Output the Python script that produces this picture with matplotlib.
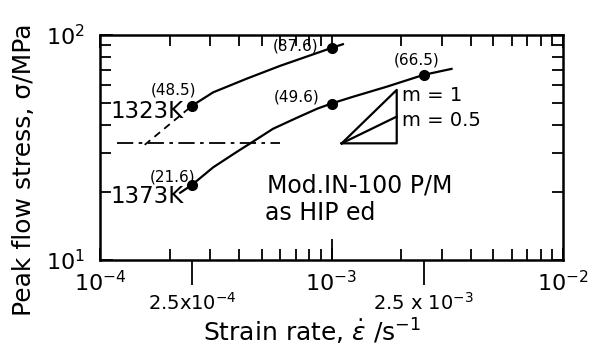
import numpy as np
import matplotlib
matplotlib.use("Agg")
import matplotlib.pyplot as plt
from matplotlib.ticker import LogLocator, NullFormatter, FixedLocator, NullLocator

# measured peak stresses (labelled points)
RATE_1323 = [2.5e-4, 1.0e-3]
STRESS_1323 = [48.5, 87.6]
RATE_1373 = [2.5e-4, 1.0e-3, 2.5e-3]
STRESS_1373 = [21.6, 49.6, 66.5]
POINT_LABELS_1323 = ["(48.5)", "(87.6)"]
POINT_LABELS_1373 = ["(21.6)", "(49.6)", "(66.5)"]

# fitted curves
CURVE_1323_RATE = [2.5e-4, 3.08e-4, 4.31e-4, 5.99e-4, 8.32e-4, 1.0e-3, 1.12e-3]
CURVE_1323_STRESS = [48.5, 55.6, 64.0, 72.9, 82.0, 87.6, 91.0]
DASH_1323_RATE = [1.56e-4, 2.5e-4]
DASH_1323_STRESS = [32.5, 48.5]
CURVE_1373_RATE = [2.22e-4, 2.5e-4, 3.08e-4, 3.91e-4, 4.44e-4, 5.59e-4, 7.10e-4,
                   8.66e-4, 1.0e-3, 1.22e-3, 1.74e-3, 2.5e-3, 3.3e-3]
CURVE_1373_STRESS = [19.9, 21.6, 25.8, 30.3, 32.9, 38.3, 42.9,
                     47.0, 49.6, 52.9, 59.0, 66.5, 70.7]

# horizontal dash-dot reference line and slope triangle
REF_RATE = [1.18e-4, 6.0e-4]
REF_STRESS = [33.0, 33.0]
TRI_RATE = [1.107e-3, 1.913e-3]
TRI_BASE = 33.0
EXTRA_TICKS = [2.5e-4, 2.5e-3]
EXTRA_LABELS = ["2.5x10$^{-4}$", "2.5 x 10$^{-3}$"]

plt.rcParams["font.family"] = ["DejaVu Sans"]
plt.rcParams["mathtext.fontset"] = "dejavusans"

fig = plt.figure(figsize=(5.91, 3.47), dpi=100)
ax = fig.add_axes([100 / 591, 1 - 260 / 347, 463 / 591, 225 / 347])
ax.set_xscale("log"); ax.set_yscale("log")
ax.set_xlim(1e-4, 1e-2); ax.set_ylim(10, 100)

k = dict(color="black", lw=1.6)
ax.plot(CURVE_1323_RATE, CURVE_1323_STRESS, **k)
ax.plot(DASH_1323_RATE, DASH_1323_STRESS, ls=(0, (4, 3)), color="black", lw=1.3)
ax.plot(CURVE_1373_RATE, CURVE_1373_STRESS, **k)
ax.plot(RATE_1323, STRESS_1323, "o", color="black", ms=7)
ax.plot(RATE_1373, STRESS_1373, "o", color="black", ms=7)
ax.plot(REF_RATE, REF_STRESS, ls=(0, (9, 3, 2, 3)), color="black", lw=1.3)

# slope triangle: m = 1 and m = 0.5
x0, x1 = TRI_RATE
top = TRI_BASE * (x1 / x0)
mid = TRI_BASE * (x1 / x0) ** 0.5
ax.plot([x0, x1, x1, x0], [TRI_BASE, TRI_BASE, top, TRI_BASE], **k)
ax.plot([x0, x1], [TRI_BASE, mid], **k)

small = dict(fontsize=11, ha="center", va="center")
for (x, y), s in zip([(2.07e-4, 57.0), (7.0e-4, 89.4)], POINT_LABELS_1323):
    ax.text(x, y, s, **small)
for (x, y), s in zip([(2.05e-4, 23.4), (7.1e-4, 53.0), (2.34e-3, 77.4)], POINT_LABELS_1373):
    ax.text(x, y, s, **small)

big = dict(fontsize=16.5, ha="left", va="center")
ax.text(1.105e-4, 45.5, "1323K", **big)
ax.text(1.105e-4, 19.25, "1373K", **big)
ax.text(2.02e-3, 54.1, "m = 1", fontsize=14, ha="left", va="center")
ax.text(2.02e-3, 41.9, "m = 0.5", fontsize=14, ha="left", va="center")
ax.text(5.27e-4, 21.5, "Mod.IN-100 P/M", fontsize=17, ha="left", va="center")
ax.text(5.16e-4, 16.2, "as HIP ed", fontsize=17, ha="left", va="center")

for sp in ax.spines.values():
    sp.set_linewidth(1.8)
ax.xaxis.set_major_locator(LogLocator(base=10, numticks=5))
ax.xaxis.set_minor_locator(LogLocator(base=10, subs=np.arange(2, 10), numticks=20))
ax.yaxis.set_minor_locator(LogLocator(base=10, subs=np.arange(2, 10), numticks=20))
ax.xaxis.set_minor_formatter(NullFormatter())
ax.yaxis.set_minor_formatter(NullFormatter())
ax.tick_params(which="both", direction="in", top=True, right=True, width=1.3, labelsize=16)
ax.tick_params(which="major", length=9)
ax.tick_params(which="minor", length=8)
ax.tick_params(axis="x", pad=7)
ax.tick_params(axis="y", pad=11)

# taller inward tick at 1e-3 on the bottom edge only
inner = ax.secondary_xaxis("bottom")
inner.spines["bottom"].set_visible(False)
inner.xaxis.set_major_locator(FixedLocator([1e-3]))
inner.xaxis.set_minor_locator(NullLocator())
inner.set_xticklabels([""])
inner.tick_params(direction="in", length=15, width=1.3)

# outward ticks with labels at 2.5x10^-4 and 2.5x10^-3
sec = ax.secondary_xaxis("bottom")
sec.spines["bottom"].set_visible(False)
sec.xaxis.set_major_locator(FixedLocator(EXTRA_TICKS))
sec.xaxis.set_minor_locator(NullLocator())
sec.set_xticklabels(EXTRA_LABELS)
sec.tick_params(direction="out", length=18, width=1.3, labelsize=14, pad=5)

fig.text(312 / 591, 1 - 332 / 347, r"Strain rate, $\dot{\varepsilon}$ /s$^{-1}$",
         fontsize=18, ha="center", va="center")
fig.text(24 / 591, 1 - 170 / 347, "Peak flow stress, σ/MPa",
         fontsize=18, ha="center", va="center", rotation=90)

fig.savefig("out.png", dpi=100)
